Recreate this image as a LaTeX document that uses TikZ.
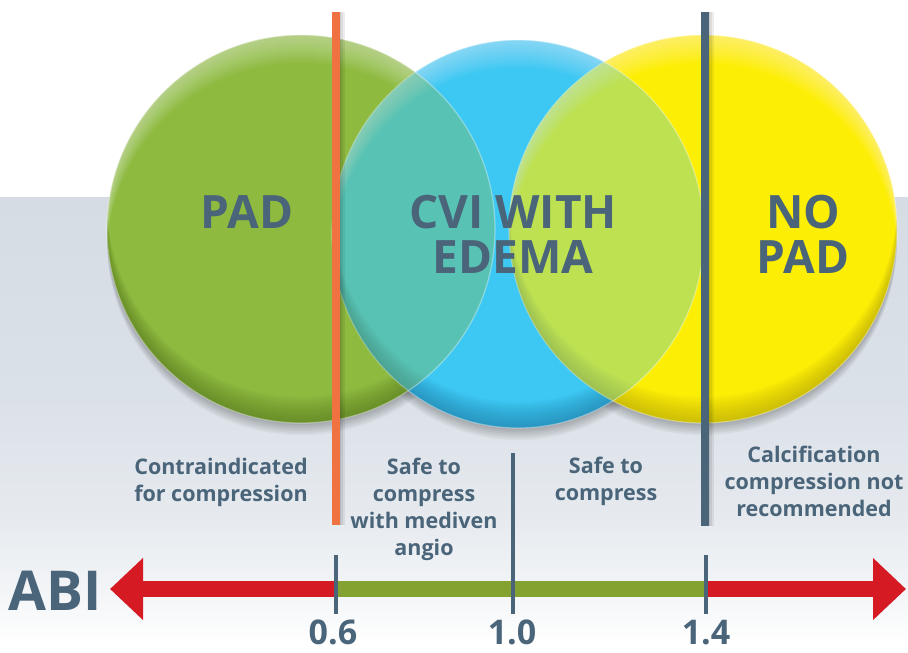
\documentclass[tikz,border=0pt]{standalone}
\usepackage{fontspec}
\setmainfont{Open Sans}
\usetikzlibrary{arrows.meta}
\definecolor{txt}{HTML}{4A6479}
\definecolor{orangeline}{HTML}{F07241}
\definecolor{barred}{HTML}{D51A24}
\definecolor{bargreen}{HTML}{84A230}
\definecolor{bandtop}{HTML}{D5DCE4}
\definecolor{bandA}{HTML}{F4F6F8}
\definecolor{bandB}{HTML}{E6EAEF}
\definecolor{bandC}{HTML}{DBE1E8}
\definecolor{gbase}{HTML}{8DBA3F}
\definecolor{gdark}{HTML}{4F6E1C}
\definecolor{bbase}{HTML}{3CC8F3}
\definecolor{bdark}{HTML}{1D6F96}
\definecolor{ybase}{HTML}{FDEE06}
\definecolor{ydark}{HTML}{A89A08}
\pgfdeclareverticalshading{bandsh}{100bp}{color(0bp)=(white); color(26bp)=(white); color(31bp)=(bandA); color(40bp)=(bandB); color(53bp)=(bandC); color(75bp)=(bandtop); color(100bp)=(bandtop)}
% #1 cx, #2 cy, #3 rx, #4 ry, #5 base colour, #6 dark colour
\newcommand\ballbody[6]{%
  \fill[#5] (#1,#2) ellipse [x radius=#3, y radius=#4];
  \begin{scope}
    \clip (#1,#2) ellipse [x radius=#3, y radius=#4];
    \foreach \d in {2,4,...,28}{\fill[white, opacity=0.035, even odd rule] (#1-#3-5,#2-#4-40) rectangle (#1+#3+5,#2+#4+40) (#1,#2+\d) ellipse [x radius=#3, y radius=#4];}
    \foreach \d in {2,4,...,26}{\fill[#6, opacity=0.05, even odd rule] (#1-#3-5,#2-#4-40) rectangle (#1+#3+5,#2+#4+40) (#1,#2-\d) ellipse [x radius=#3, y radius=#4];}
  \end{scope}
  \draw[white, opacity=0.35, line width=1.2] (#1,#2) ellipse [x radius=#3, y radius=#4];
}
\newcommand\ballshadow[4]{%
  \foreach \k in {1,...,6}{\fill[black, opacity=0.045] (#1,#2+2*\k) ellipse [x radius=#3, y radius=#4];}
}
\tikzset{
  biglab/.style={font=\fontsize{46}{45}\selectfont\bfseries, text=txt, align=center, inner sep=0pt},
  smalllab/.style={font=\fontsize{21.5}{27}\selectfont\bfseries, text=txt, align=center, inner sep=0pt, anchor=north},
  numlab/.style={font=\fontsize{34}{40}\selectfont\bfseries, text=txt, inner sep=0pt, anchor=base},
  vline/.style={line width=8pt},
  vshadow/.style={line width=6pt, black, opacity=0.07},
  tick/.style={line width=4pt, txt},
  redbar/.style={line width=16pt, barred, -{Triangle[length=33pt,width=60pt]}},
  greenbar/.style={line width=16pt, bargreen}
}
\begin{document}
\begin{tikzpicture}[x=1pt,y=-1pt]
\useasboundingbox (0,0) rectangle (908,653);
\fill[white] (0,0) rectangle (908,653);
% gray band
\shade[shading=bandsh] (0,197) rectangle (908,653);
% shadows
\ballshadow{301}{229}{194}{194}
\ballshadow{518}{234}{186}{194}
\ballshadow{703}{229}{194}{194}
% green
\ballbody{301}{229}{194}{194}{gbase}{gdark}
% blue
\ballbody{518}{234}{186}{194}{bbase}{bdark}
\begin{scope}
  \clip (518,234) ellipse [x radius=186, y radius=194];
  \begin{scope}[opacity=0.35]
    \fill[gbase] (301,229) circle (194);
  \end{scope}
  \draw[white, opacity=0.35, line width=1.2] (301,229) circle (194);
\end{scope}
% yellow
\ballbody{703}{229}{194}{194}{ybase}{ydark}
\begin{scope}
  \clip (703,229) circle (194);
  \begin{scope}[opacity=0.32]
    \fill[bbase] (518,234) ellipse [x radius=186, y radius=194];
  \end{scope}
  \draw[white, opacity=0.35, line width=1.2] (518,234) ellipse [x radius=186, y radius=194];
\end{scope}
% vertical lines
\coordinate (otop) at (335.5,12);
\coordinate (obot) at (335.5,525);
\coordinate (dtop) at (705,12);
\coordinate (dbot) at (705,526);
\foreach \s in {2,4,6}{
  \draw[vshadow] ([xshift=\s pt]otop) -- ([xshift=\s pt]obot);
  \draw[vshadow] ([xshift=\s pt]dtop) -- ([xshift=\s pt]dbot);
}
\draw[vline, orangeline] (otop) -- (obot);
\draw[vline, txt] (dtop) -- (dbot);
% circle labels
\node[biglab, anchor=base] (pad) at (247,228) {PAD};
\node[biglab, anchor=north] (cvi) at (513,195.2) {CVI WITH\\EDEMA};
\node[biglab, anchor=north] (nopad) at (803,195.2) {NO\\PAD};
% zone labels
\node[smalllab] (contra) at (221,458.3) {Contraindicated\\for compression};
\node[smalllab] (safemed) at (424,458.3) {Safe to\\compress\\with mediven\\angio};
\node[smalllab] (safe) at (606,457.3) {Safe to\\compress};
\node[smalllab] (calc) at (814,446.3) {Calcification\\compression not\\recommended};
% axis
\coordinate (a06) at (336,589);
\coordinate (a10) at (513,589);
\coordinate (a14) at (706,589);
\coordinate (ltip) at (110,589);
\coordinate (rtip) at (906,589);
\draw[redbar] (a06) -- (ltip);
\draw[greenbar] (a06) -- (a14);
\draw[redbar] (a14) -- (rtip);
\coordinate (t06top) at (336,555);
\coordinate (t06bot) at (336,614);
\coordinate (t10top) at (513,453);
\coordinate (t10bot) at (513,614);
\coordinate (t14top) at (706,555);
\coordinate (t14bot) at (706,614);
\draw[tick] (t06top) -- (t06bot);
\draw[tick] (t10top) -- (t10bot);
\draw[tick] (t14top) -- (t14bot);
\node[font=\fontsize{55}{60}\selectfont\bfseries, text=txt, inner sep=0pt, anchor=base] (abi) at (55.5,610) {ABI};
\node[numlab] (n06) at (333,644) {0.6};
\node[numlab] (n10) at (512,644) {1.0};
\node[numlab] (n14) at (706,644) {1.4};
\end{tikzpicture}
\end{document}
